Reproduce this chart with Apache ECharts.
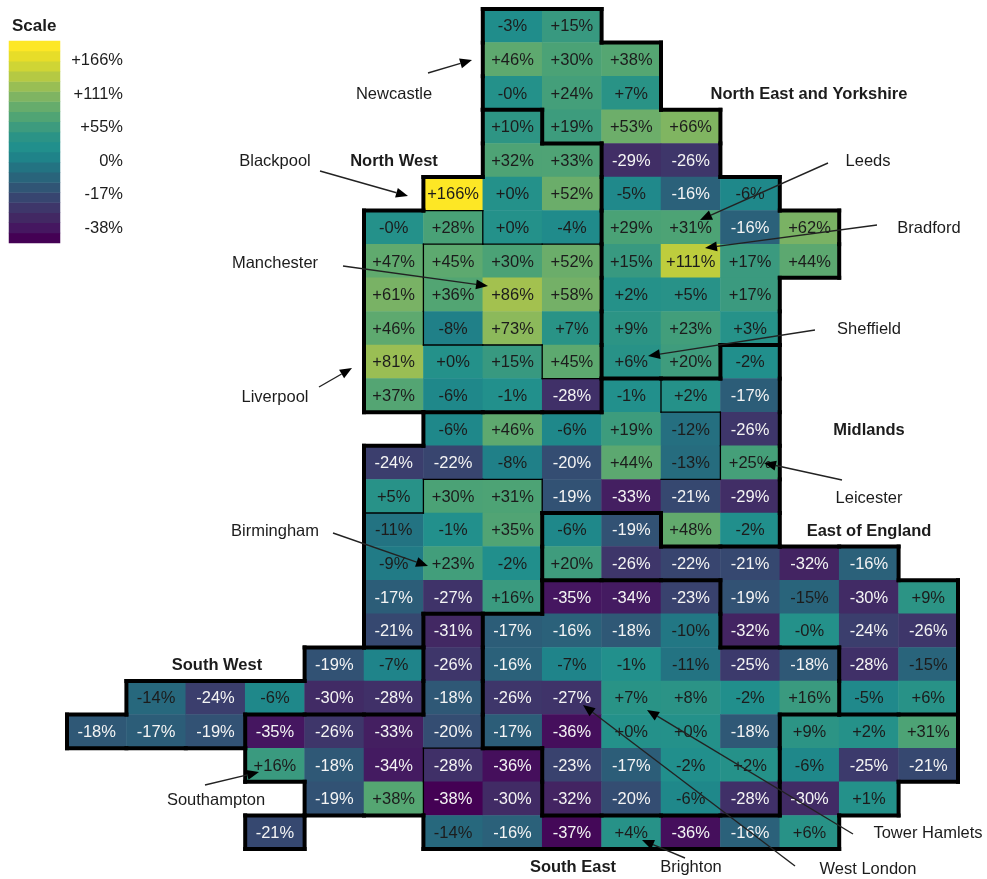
<!DOCTYPE html>
<html>
<head>
<meta charset="utf-8">
<style>html,body{margin:0;padding:0;background:#fff}#c{width:987px;height:879px}</style>
<script src="https://cdn.jsdelivr.net/npm/echarts@6/dist/echarts.min.js"></script>
</head>
<body>
<div id="c"></div>
<script>
// One row per map row, 15 columns, null = no tile. -0 is kept: the chart prints "-0%".
var _ = null;
var valueRows = [
 [_,_,_,_,_,_,_,-3,15,_,_,_,_,_,_],
 [_,_,_,_,_,_,_,46,30,38,_,_,_,_,_],
 [_,_,_,_,_,_,_,-0,24,7,_,_,_,_,_],
 [_,_,_,_,_,_,_,10,19,53,66,_,_,_,_],
 [_,_,_,_,_,_,_,32,33,-29,-26,_,_,_,_],
 [_,_,_,_,_,_,166,0,52,-5,-16,-6,_,_,_],
 [_,_,_,_,_,-0,28,0,-4,29,31,-16,62,_,_],
 [_,_,_,_,_,47,45,30,52,15,111,17,44,_,_],
 [_,_,_,_,_,61,36,86,58,2,5,17,_,_,_],
 [_,_,_,_,_,46,-8,73,7,9,23,3,_,_,_],
 [_,_,_,_,_,81,0,15,45,6,20,-2,_,_,_],
 [_,_,_,_,_,37,-6,-1,-28,-1,2,-17,_,_,_],
 [_,_,_,_,_,_,-6,46,-6,19,-12,-26,_,_,_],
 [_,_,_,_,_,-24,-22,-8,-20,44,-13,25,_,_,_],
 [_,_,_,_,_,5,30,31,-19,-33,-21,-29,_,_,_],
 [_,_,_,_,_,-11,-1,35,-6,-19,48,-2,_,_,_],
 [_,_,_,_,_,-9,23,-2,20,-26,-22,-21,-32,-16,_],
 [_,_,_,_,_,-17,-27,16,-35,-34,-23,-19,-15,-30,9],
 [_,_,_,_,_,-21,-31,-17,-16,-18,-10,-32,-0,-24,-26],
 [_,_,_,_,-19,-7,-26,-16,-7,-1,-11,-25,-18,-28,-15],
 [_,-14,-24,-6,-30,-28,-18,-26,-27,7,8,-2,16,-5,6],
 [-18,-17,-19,-35,-26,-33,-20,-17,-36,0,0,-18,9,2,31],
 [_,_,_,16,-18,-34,-28,-36,-23,-17,-2,2,-6,-25,-21],
 [_,_,_,_,-19,38,-38,-30,-32,-20,-6,-28,-30,1,_],
 [_,_,_,-21,_,_,-14,-16,-37,4,-36,-16,6,_,_]
];
// Region of every tile: N North East and Yorkshire, W North West, M Midlands,
// E East of England, L London, T South East, S South West.
var regionRows = [
 "       NN      ",
 "       NNN     ",
 "       NNN     ",
 "       WNNN    ",
 "       WWNN    ",
 "      WWWNNN   ",
 "     WWWWNNNN  ",
 "     WWWWNNNN  ",
 "     WWWWNNN   ",
 "     WWWWNNN   ",
 "     WWWWNNM   ",
 "     WWWWMMM   ",
 "      MMMMMM   ",
 "     MMMMMMM   ",
 "     MMMMMMM   ",
 "     MMMEEMM   ",
 "     MMMEEEEEE ",
 "     MMMLLLEEEE",
 "     MTLLLLEEEE",
 "    SSTLLLLLLEE",
 " SSSSSTLLLLLLEE",
 "SSSTTTTLLLLLTTT",
 "   TTTTTLLLLTTT",
 "    TTTTLLLLTT ",
 "   T  TTTTTTT  "
];
// Thin inner boundaries, as [column, row] of the tile whose top or left side they follow.
var thinTops = [[6,6],[6,7],[7,7],[8,7],[6,10],[7,10],[8,11],[6,14],[7,14],[5,15],[10,12],[10,14],[6,22]];
var thinLefts = [[7,6],[6,7],[6,8],[6,9],[8,10],[8,14],[6,14],[10,11],[11,12],[11,13],[6,22],[6,23]];

var scaleTicks = ["+166%","+111%","+55%","0%","-17%","-38%"];
var palette = ["#440154","#451560","#432562","#403168","#3a406e","#344d72","#2d5c78","#27697d","#227784","#1f858a","#21908c","#2a9386","#3a9a7f","#4ba276","#5ea96f","#74b067","#8bb95c","#a3c14f","#bdcc3e","#d4d733","#e9de28","#fde725"];
var stripeCount = 20;
// The colour scale is not linear in the value: value -> position along the palette.
var scaleValues = [-38,-35,-30,-26,-21,-17,-14,-10,-6,-2,0,7,16,30,46,52,66,86,111,166];
var scalePos    = [0,.05,.12,.16,.22,.29,.33,.38,.44,.47,.49,.52,.57,.62,.667,.695,.74,.81,.86,1];

var regionTitles = [
 ["North West",394,161],["North East and Yorkshire",809,94],["Midlands",869,430],
 ["East of England",869,531],["South West",217,665],["South East",573,867]
];
var callouts = [
 ["Newcastle",394,94,428,73,472,60],
 ["Blackpool",275,161,320,171,408,196],
 ["Manchester",275,263,343,266,488,286],
 ["Leeds",868,161,828,163,700,220],
 ["Bradford",929,228,877,225,705,248],
 ["Liverpool",275,397,319,387,352,368],
 ["Sheffield",869,329,815,330,648,356],
 ["Leicester",869,498,842,480,764,463],
 ["Birmingham",275,531,333,533,428,566],
 ["Southampton",216,800,205,785,259,772],
 ["West London",868,869,795,866,583,705],
 ["Tower Hamlets",928,833,853,834,647,710],
 ["Brighton",691,867,685,858,642,840]
];

function posOf(v){
  for(var i=1;i<scaleValues.length;i++){
    if(v<=scaleValues[i]){
      var a=scaleValues[i-1],b=scaleValues[i];
      return scalePos[i-1]+(scalePos[i]-scalePos[i-1])*(v-a)/(b-a);
    }
  }
  return 1;
}
function label(v){
  if(Object.is(v,-0)) return "-0%";
  return (v>=0?"+":"")+v+"%";
}
var FONT='"Liberation Sans",Arial,sans-serif', FS=16.5, INK='#1c1c1c';

var cols=[],rows=[],tiles=[];
for(var i=0;i<15;i++) cols.push(String(i));
for(var j=0;j<25;j++) rows.push(String(j));
valueRows.forEach(function(row,r){
  row.forEach(function(v,c){
    if(v===null) return;
    tiles.push({value:[c,r,v,posOf(v)],text:label(v),label:{color:v<=-16?'#f4f4f4':INK}});
  });
});

var edges=[];
function reg(c,r){ var s=regionRows[r]; if(!s) return ' '; var ch=s.charAt(c); return ch===''?' ':ch; }
regionRows.forEach(function(s,r){
  for(var c=0;c<15;c++){
    var me=reg(c,r); if(me===' ') continue;
    var up=reg(c,r-1), lf=reg(c-1,r), dn=reg(c,r+1), rt=reg(c+1,r);
    if(up===' ') edges.push([c,r,0,4]);
    if(lf===' ') edges.push([c,r,1,4]);
    if(dn!==me) edges.push([c,r,2,4]);
    if(rt!==me) edges.push([c,r,3,4]);
  }
});
thinTops.forEach(function(e){edges.push([e[0],e[1],0,1.3]);});
thinLefts.forEach(function(e){edges.push([e[0],e[1],1,1.3]);});

var stripes=[], stripeRows=[];
for(var s=0;s<stripeCount;s++){
  stripeRows.push(String(s));
  stripes.push([0,s,s,s/(stripeCount-1)]);
}

var graphics=[{type:'text',left:12,top:18,z:50,style:{text:'Scale',font:'bold 17px '+FONT,fill:INK}}];
regionTitles.forEach(function(t){
  graphics.push({type:'text',x:t[1],y:t[2],z:50,style:{text:t[0],font:'bold '+FS+'px '+FONT,fill:INK,textAlign:'center',textVerticalAlign:'middle'}});
});
callouts.forEach(function(k){
  graphics.push({type:'text',x:k[1],y:k[2],z:50,style:{text:k[0],font:FS+'px '+FONT,fill:INK,textAlign:'center',textVerticalAlign:'middle'}});
  var dx=k[5]-k[3],dy=k[6]-k[4],d=Math.sqrt(dx*dx+dy*dy),ux=dx/d,uy=dy/d,hl=12,hw=5;
  var bx=k[5]-ux*hl,by=k[6]-uy*hl;
  graphics.push({type:'line',z:50,shape:{x1:k[3],y1:k[4],x2:bx,y2:by},style:{stroke:'#222',lineWidth:1.4}});
  graphics.push({type:'polygon',z:50,shape:{points:[[k[5],k[6]],[bx-uy*hw,by+ux*hw],[bx+uy*hw,by-ux*hw]]},style:{fill:'#000'}});
});

var chart=echarts.init(document.getElementById('c'),null,{renderer:'canvas'});
chart.setOption({
  animation:false,
  backgroundColor:'#fff',
  grid:[
    {left:67,top:9,width:891,height:840},
    {left:9,top:41,width:51,height:202},
    {left:127,top:60.5,width:1,height:168}
  ],
  xAxis:[
    {type:'category',gridIndex:0,data:cols,show:false},
    {type:'category',gridIndex:1,data:['s'],show:false},
    {type:'category',gridIndex:2,data:['t'],show:false}
  ],
  yAxis:[
    {type:'category',gridIndex:0,data:rows,inverse:true,show:false},
    {type:'category',gridIndex:1,data:stripeRows,show:false},
    {type:'category',gridIndex:2,data:scaleTicks,inverse:true,boundaryGap:false,
     axisLine:{show:false},axisTick:{show:false},splitLine:{show:false},
     axisLabel:{interval:0,margin:4,color:INK,fontFamily:'"Liberation Sans",Arial,sans-serif',fontSize:FS}}
  ],
  visualMap:{show:false,type:'continuous',dimension:3,min:0,max:1,seriesIndex:[0,1],inRange:{color:palette}},
  series:[
    {type:'heatmap',xAxisIndex:0,yAxisIndex:0,data:tiles,itemStyle:{borderWidth:0},
     label:{show:true,offset:[0,1],fontFamily:'"Liberation Sans",Arial,sans-serif',fontSize:FS,
       formatter:function(p){return p.data.text;}},
     emphasis:{disabled:true}},
    {type:'heatmap',xAxisIndex:1,yAxisIndex:1,data:stripes,label:{show:false},emphasis:{disabled:true}},
    {type:'custom',xAxisIndex:0,yAxisIndex:0,data:edges,clip:false,silent:true,z:5,
     encode:{x:0,y:1},
     renderItem:function(params,api){
       var p=api.coord([api.value(0),api.value(1)]),sz=api.size([1,1]);
       var w=sz[0]/2,h=sz[1]/2,side=api.value(2),sh;
       if(side===0) sh={x1:p[0]-w,y1:p[1]-h,x2:p[0]+w,y2:p[1]-h};
       else if(side===1) sh={x1:p[0]-w,y1:p[1]-h,x2:p[0]-w,y2:p[1]+h};
       else if(side===2) sh={x1:p[0]-w,y1:p[1]+h,x2:p[0]+w,y2:p[1]+h};
       else sh={x1:p[0]+w,y1:p[1]-h,x2:p[0]+w,y2:p[1]+h};
       return {type:'line',shape:sh,style:{stroke:'#000',lineWidth:api.value(3),lineCap:'square'}};
     }}
  ],
  graphic:graphics
});
</script>
</body>
</html>
